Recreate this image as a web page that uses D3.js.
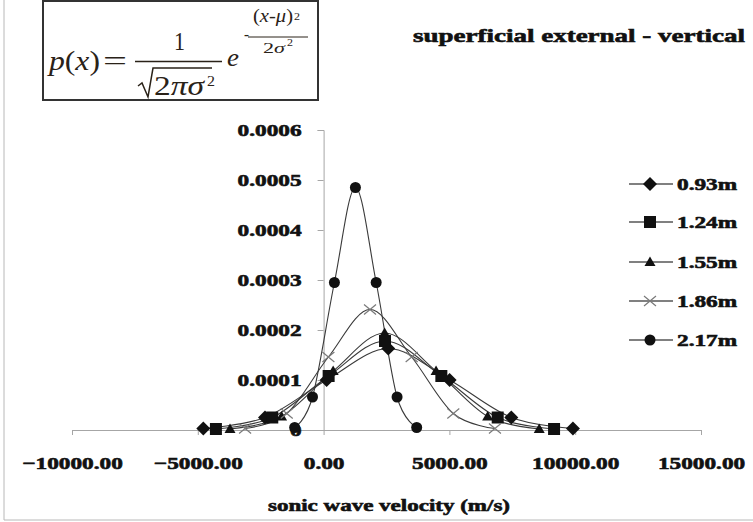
<!DOCTYPE html>
<html>
<head>
<meta charset="utf-8">
<script src="https://cdn.jsdelivr.net/npm/d3@7"></script>
<style>
  body { margin: 0; background: #fff; }
  text { font-family: "Liberation Serif", "DejaVu Serif", serif; }
  text.heavy { stroke: #111; stroke-width: 0.6px; }
</style>
</head>
<body>
<div id="chart"></div>
<script>
// series names and the points
const seriesNames = ["0.93m", "1.24m", "1.55m", "1.86m", "2.17m"];
const x093 = [-4780, -2330, 120, 2570, 5010, 7460, 9910];
const y093 = [0.000003, 0.000025, 0.000100, 0.000163, 0.000100, 0.000025, 0.000003];
const x124 = [-4280, -2040, 200, 2440, 4680, 6920, 9160];
const y124 = [0.000002, 0.000025, 0.000108, 0.000178, 0.000108, 0.000025, 0.000002];
const x155 = [-3720, -1670, 380, 2425, 4470, 6520, 8570];
const y155 = [0.000002, 0.000027, 0.000118, 0.000194, 0.000118, 0.000027, 0.000002];
const x186 = [-3120, -1465, 190, 1845, 3500, 5155, 6810];
const y186 = [0.000003, 0.000033, 0.000146, 0.000241, 0.000146, 0.000033, 0.000003];
const x217 = [-1150, -440, 430, 1265, 2090, 2920, 3700];
const y217 = [0.000005, 0.000066, 0.000295, 0.000485, 0.000295, 0.000066, 0.000005];

const xTicks = [-10000, -5000, 0, 5000, 10000, 15000];
const yTicks = [0, 0.0001, 0.0002, 0.0003, 0.0004, 0.0005, 0.0006];
const yTickLabels = ["0", "0.0001", "0.0002", "0.0003", "0.0004", "0.0005", "0.0006"];

const W = 753, H = 522;

const svg = d3.select("#chart").append("svg")
    .attr("width", W)
    .attr("height", H);

// outer frame (left and bottom edges visible)
svg.append("line").attr("x1", 4).attr("x2", 4).attr("y1", 0).attr("y2", 520)
    .attr("stroke", "#b8b8b8");
svg.append("line").attr("x1", 4).attr("x2", W).attr("y1", 520).attr("y2", 520)
    .attr("stroke", "#b8b8b8");

const x = d3.scaleLinear().domain([-10000, 15000]).range([72, 701]);
const y = d3.scaleLinear().domain([0, 0.0006]).range([430, 130]);

// measure how much the labels must be widened ("0.0006" is 64px wide in the picture)
const probe = svg.append("text").attr("font-weight", "bold").attr("font-size", 17).text("0.0006");
const stretch = 64 / probe.node().getComputedTextLength();
probe.remove();

function widen(sel, k) {
  sel.each(function() {
    const w = this.getComputedTextLength();
    d3.select(this).attr("textLength", w * k).attr("lengthAdjust", "spacingAndGlyphs");
  });
}

// axes
const gx = svg.append("g")
    .attr("transform", `translate(0, ${y(0)})`)
    .call(d3.axisBottom(x).tickValues(xTicks).tickSize(5).tickPadding(22)
      .tickFormat(d => d3.format(".2f")(d)));
const gy = svg.append("g")
    .attr("transform", `translate(${x(0)}, 0)`)
    .call(d3.axisLeft(y).tickValues(yTicks).tickSize(6).tickPadding(16)
      .tickFormat((d, i) => yTickLabels[i]));

[gx, gy].forEach(g => {
  g.attr("font-family", null);
  g.select(".domain").attr("stroke", "#a6a6a6");
  g.selectAll(".tick line").attr("stroke", "#a6a6a6");
  g.selectAll(".tick text")
    .attr("class", "heavy")
    .attr("font-weight", "bold")
    .attr("font-size", 17)
    .attr("fill", "#111");
});
widen(gx.selectAll(".tick text"), stretch);
widen(gy.selectAll(".tick text"), stretch);

// series
const xsets = [x093, x124, x155, x186, x217];
const ysets = [y093, y124, y155, y186, y217];

const line = d3.line()
    .x(d => x(d.x))
    .y(d => y(d.y))
    .curve(d3.curveCatmullRom.alpha(0));

function drawMarker(g, i, cx, cy) {
  if (i === 3) {
    g.append("path")
      .attr("d", `M${cx - 6},${cy - 5}L${cx + 6},${cy + 5}M${cx - 6},${cy + 5}L${cx + 6},${cy - 5}`)
      .attr("stroke", "#7a7a7a")
      .attr("stroke-width", 1.2)
      .attr("fill", "none");
    return;
  }
  let d;
  if (i === 0) d = `M${cx},${cy - 7}L${cx + 7},${cy}L${cx},${cy + 7}L${cx - 7},${cy}Z`;
  else if (i === 1) d = `M${cx - 6},${cy - 6}h12v12h-12Z`;
  else if (i === 2) d = `M${cx},${cy - 5.5}L${cx + 5.5},${cy + 4}L${cx - 5.5},${cy + 4}Z`;
  if (i === 4) {
    g.append("path").attr("d", d3.symbol().type(d3.symbolCircle).size(95)())
      .attr("fill", "#111").attr("transform", `translate(${cx},${cy})`);
  } else {
    g.append("path").attr("d", d).attr("fill", "#111");
  }
}

for (let i = 0; i < seriesNames.length; i++) {
  const data = xsets[i].map((v, j) => ({ x: v, y: ysets[i][j] }));
  svg.append("path")
    .datum(data)
    .attr("fill", "none")
    .attr("stroke", "#3a3a3a")
    .attr("stroke-width", 1.1)
    .attr("d", line);
}
for (let i = 0; i < seriesNames.length; i++) {
  const g = svg.append("g");
  xsets[i].forEach((v, j) => drawMarker(g, i, x(v), y(ysets[i][j])));
}

// legend
const legendY = [184, 222, 262, 301, 340];
seriesNames.forEach((name, i) => {
  const g = svg.append("g");
  g.append("line")
    .attr("x1", 629).attr("x2", 673)
    .attr("y1", legendY[i]).attr("y2", legendY[i])
    .attr("stroke", "#808080")
    .attr("stroke-width", 2);
  drawMarker(g, i, 650, legendY[i]);
  const t = g.append("text")
    .attr("class", "heavy")
    .attr("x", 677)
    .attr("y", legendY[i] + 6)
    .attr("font-weight", "bold")
    .attr("font-size", 17)
    .attr("fill", "#111")
    .text(name);
  widen(t, stretch);
});

// title
svg.append("text")
    .attr("class", "heavy")
    .attr("x", 413).attr("y", 42)
    .attr("font-weight", "bold")
    .attr("font-size", 19)
    .attr("fill", "#111")
    .attr("textLength", 332)
    .attr("lengthAdjust", "spacingAndGlyphs")
    .text("superficial external - vertical");

// x axis title
svg.append("text")
    .attr("class", "heavy")
    .attr("x", 268).attr("y", 511)
    .attr("font-weight", "bold")
    .attr("font-size", 17)
    .attr("fill", "#111")
    .attr("textLength", 242)
    .attr("lengthAdjust", "spacingAndGlyphs")
    .text("sonic wave velocity (m/s)");

// formula box
const fb = svg.append("g");
fb.append("rect")
    .attr("x", 43).attr("y", 1).attr("width", 275).attr("height", 99)
    .attr("fill", "#fff")
    .attr("stroke", "#333")
    .attr("stroke-width", 2);
const fcol = "#2a2218";
function ftext(xp, yp, size, len) {
  const t = fb.append("text").attr("x", xp).attr("y", yp).attr("font-size", size).attr("fill", fcol);
  if (len) t.attr("textLength", len).attr("lengthAdjust", "spacingAndGlyphs");
  return t;
}
const px = ftext(49, 70, 27, 51);
px.append("tspan").attr("font-style", "italic").text("p");
px.append("tspan").text("(");
px.append("tspan").attr("font-style", "italic").text("x");
px.append("tspan").text(")");
ftext(103, 70, 27, 24).text("=");
ftext(174, 50, 26, 11).text("1");
fb.append("line").attr("x1", 135).attr("x2", 222).attr("y1", 61.5).attr("y2", 61.5)
    .attr("stroke", fcol).attr("stroke-width", 1.5);
fb.append("path")
    .attr("d", "M138,86L142,83L148,97L153,68L212,68")
    .attr("fill", "none").attr("stroke", fcol).attr("stroke-width", 1.5);
const rad = ftext(154, 95, 27, 50);
rad.append("tspan").text("2");
rad.append("tspan").attr("font-style", "italic").text("πσ");
ftext(207, 86, 15, 8).text("2");
ftext(227, 66, 25, 12).attr("font-style", "italic").text("e");
ftext(244, 40, 16, 5).text("-");
const num = ftext(253, 22, 18, 40);
num.append("tspan").text("(");
num.append("tspan").attr("font-style", "italic").text("x");
num.append("tspan").text("-");
num.append("tspan").attr("font-style", "italic").text("μ");
num.append("tspan").text(")");
ftext(294, 20, 11, 6).text("2");
fb.append("line").attr("x1", 248).attr("x2", 308).attr("y1", 37).attr("y2", 37)
    .attr("stroke", fcol).attr("stroke-width", 1);
const den = ftext(263, 53, 15, 22);
den.append("tspan").text("2");
den.append("tspan").attr("font-style", "italic").text("σ");
ftext(287, 46, 10, 6).text("2");
</script>
</body>
</html>
